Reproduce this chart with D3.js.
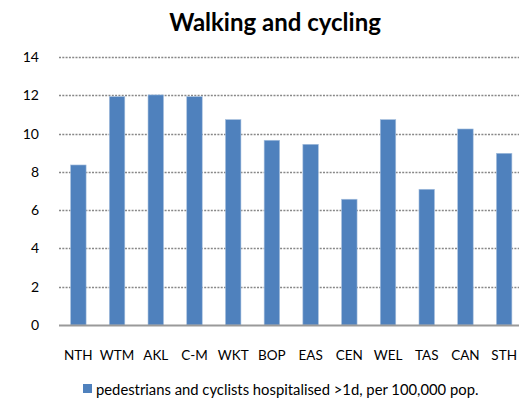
<!DOCTYPE html>
<html>
<head>
<meta charset="UTF-8">
<title>Walking and cycling</title>
<script src="https://d3js.org/d3.v7.min.js"></script>
<style>
  body { margin: 0; background: #fff; }
  text { font-family: Lato, "Open Sans", sans-serif; fill: #000; }
</style>
</head>
<body>
<script>
var w = 519, h = 400;

// data
var regions = ["NTH", "WTM", "AKL", "C-M", "WKT", "BOP", "EAS", "CEN", "WEL", "TAS", "CAN", "STH"];
var rates = [8.36, 11.93, 12.02, 11.93, 10.73, 9.65, 9.44, 6.57, 10.73, 7.09, 10.24, 8.97];
var yTicks = [0, 2, 4, 6, 8, 10, 12, 14];
var seriesName = "pedestrians and cyclists hospitalised >1d, per 100,000 pop.";

var plotLeft = 59, plotRight = 523.5, plotTop = 57, plotBottom = 325;

var svg = d3.select("body").append("svg")
  .attr("width", w)
  .attr("height", h);

var x = d3.scaleBand()
  .domain(regions)
  .range([plotLeft, plotRight])
  .paddingInner(0.6)
  .paddingOuter(0.3);

var y = d3.scaleLinear()
  .domain([0, 14])
  .range([plotBottom, plotTop]);

// title
svg.append("text")
  .attr("x", 275)
  .attr("y", 31)
  .attr("text-anchor", "middle")
  .attr("font-size", "24px")
  .attr("font-weight", "bold")
  .text("Walking and cycling");

// gridlines
svg.append("g")
  .selectAll("line")
  .data(yTicks.filter(function(d) { return d > 0; }))
  .enter()
  .append("line")
  .attr("x1", plotLeft)
  .attr("x2", w)
  .attr("y1", function(d) { return Math.round(y(d)) + 0.5; })
  .attr("y2", function(d) { return Math.round(y(d)) + 0.5; })
  .attr("stroke", "#888")
  .attr("stroke-width", 1.3)
  .attr("stroke-dasharray", "2,1.3");

// y axis labels
var yAxis = d3.axisLeft(y).tickValues(yTicks).tickSize(0).tickPadding(0);
var gy = svg.append("g")
  .attr("transform", "translate(" + 39 + ",0)")
  .call(yAxis);
gy.select(".domain").remove();
gy.selectAll("text")
  .attr("font-size", "14px")
  .attr("font-family", "Lato, 'Open Sans', sans-serif")
  .attr("fill", "#000");

// bars
svg.selectAll("rect.bar")
  .data(rates)
  .enter()
  .append("rect")
  .attr("class", "bar")
  .attr("x", function(d, i) { return x(regions[i]); })
  .attr("y", function(d) { return y(d); })
  .attr("width", x.bandwidth())
  .attr("height", function(d) { return plotBottom - y(d); })
  .attr("fill", "#4f81bd")
  .attr("stroke", "#a7c0de")
  .attr("stroke-width", 0.6);

// x axis line
svg.append("line")
  .attr("x1", plotLeft)
  .attr("x2", w)
  .attr("y1", plotBottom + 0.5)
  .attr("y2", plotBottom + 0.5)
  .attr("stroke", "#9a9a9a")
  .attr("stroke-width", 2);

// category labels
var xAxis = d3.axisBottom(x).tickSize(0).tickPadding(0);
var gx = svg.append("g")
  .attr("transform", "translate(0," + 350 + ")")
  .call(xAxis);
gx.select(".domain").remove();
gx.selectAll("text")
  .attr("font-size", "13.5px")
  .attr("font-family", "Lato, 'Open Sans', sans-serif")
  .attr("fill", "#000");

// legend
svg.append("rect")
  .attr("x", 83)
  .attr("y", 384)
  .attr("width", 9)
  .attr("height", 9)
  .attr("fill", "#4f81bd");

svg.append("text")
  .attr("x", 96)
  .attr("y", 395)
  .attr("font-size", "14.8px")
  .text(seriesName);
</script>
</body>
</html>
